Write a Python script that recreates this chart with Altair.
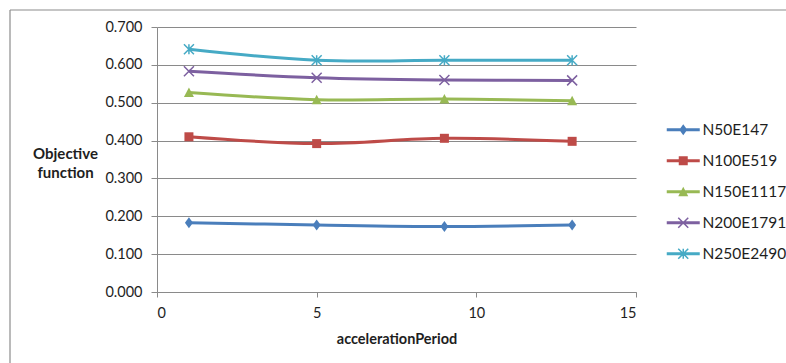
import altair as alt
import pandas as pd

# Objective function per accelerationPeriod, one series per network size
periods = [1, 5, 9, 13]
series_names = ["N50E147", "N100E519", "N150E1117", "N200E1791", "N250E2490"]
n50e147 = [0.183, 0.177, 0.173, 0.177]
n100e519 = [0.410, 0.392, 0.406, 0.398]
n150e1117 = [0.527, 0.508, 0.510, 0.505]
n200e1791 = [0.583, 0.566, 0.560, 0.559]
n250e2490 = [0.641, 0.612, 0.612, 0.612]
y_ticks = [0.0, 0.1, 0.2, 0.3, 0.4, 0.5, 0.6, 0.7]
x_ticks = [0, 5, 10, 15]

colors = ["#4a7ebb", "#be4b48", "#98b954", "#7d60a0", "#46aac5"]

# Marker outlines (unit coordinates, all sub-paths wound the same way so they fill solid)
DIAMOND = "M0,-1.1L0.8,0L0,1.1L-0.8,0Z"
SQUARE = "M-0.9,-0.9H0.9V0.9H-0.9Z"
TRIANGLE = "M0,-1L1,0.9H-1Z"
X_MARK = ("M-1.106,-0.894L-0.894,-1.106L1.106,0.894L0.894,1.106Z"
          "M-0.894,1.106L-1.106,0.894L0.894,-1.106L1.106,-0.894Z")
STAR = X_MARK + "M-0.15,-1H0.15V1H-0.15Z"
marker_paths = [DIAMOND, SQUARE, TRIANGLE, X_MARK, STAR]

# Legend keys: a short line segment with the marker on top
SEGMENT = "M-3.3,-0.3H3.3V0.3H-3.3Z"
legend_paths = [SEGMENT + p for p in marker_paths]

values = [n50e147, n100e519, n150e1117, n200e1791, n250e2490]
rows = []
for name, vals in zip(series_names, values):
    for p, v in zip(periods, vals):
        rows.append({"period": p, "value": v, "series": name})
df = pd.DataFrame(rows)

FONT = "Lato"
GRID = "#8a8a8a"
TEXT = "#1e1e1e"

x_enc = alt.X(
    "period:Q",
    scale=alt.Scale(domain=[0, 15], nice=False, zero=False),
    axis=alt.Axis(
        values=x_ticks, format="d", title="accelerationPeriod",
        grid=False, domainColor=GRID, tickColor=GRID, tickSize=5,
        labelPadding=9, labelFontSize=14.5, labelColor=TEXT, labelFont=FONT,
        titleFont=FONT, titleFontSize=14.5, titleFontWeight="bold", titleColor=TEXT,
        titleBaseline="middle", titleY=47,
    ),
)
y_enc = alt.Y(
    "value:Q",
    scale=alt.Scale(domain=[0, 0.7], nice=False),
    axis=alt.Axis(
        values=y_ticks, format=".3f", title=["Objective", "function"],
        grid=True, gridColor=GRID, gridWidth=1,
        domainColor=GRID, tickColor=GRID, tickSize=6,
        labelPadding=9, labelFontSize=14.5, labelColor=TEXT, labelFont=FONT,
        titleFont=FONT, titleFontSize=15, titleFontWeight="bold", titleColor=TEXT,
        titleAngle=0, titleAlign="center", titleBaseline="middle",
        titleX=-92, titleY=126.5, titleLineHeight=19,
    ),
)

color_scale = alt.Scale(domain=series_names, range=colors)

lines = alt.Chart(df).mark_line(interpolate="cardinal", strokeWidth=3).encode(
    x=x_enc, y=y_enc,
    color=alt.Color("series:N", scale=color_scale, legend=None),
)

points = alt.Chart(df).mark_point(filled=True, opacity=1, size=100, strokeWidth=0).encode(
    x=x_enc, y=y_enc,
    color=alt.Color("series:N", scale=color_scale, legend=None),
    shape=alt.Shape("series:N", scale=alt.Scale(domain=series_names, range=marker_paths), legend=None),
)

legend_def = alt.Legend(
    title=None, orient="none", legendX=518.5, legendY=95, padding=0,
    symbolSize=100, symbolStrokeWidth=0, symbolOpacity=1,
    labelOffset=11.5, labelFontSize=15.5, labelFont=FONT, labelColor=TEXT,
    rowPadding=14,
)

legend_layer = alt.Chart(df).mark_point(filled=True, opacity=1, size=100, strokeWidth=0).encode(
    x=x_enc, y=y_enc,
    color=alt.Color("series:N", scale=color_scale, legend=legend_def),
    shape=alt.Shape("series:N", scale=alt.Scale(domain=series_names, range=legend_paths), legend=legend_def),
).transform_filter("false")

# Outer frame of the chart area (left and top edges)
frame_data = alt.Data(values=[{"k": 0}])
frame_left = alt.Chart(frame_data).mark_rule(color="#8c8c8c", strokeWidth=1.2).encode(
    x=alt.value(-147), y=alt.value(-17), y2=alt.value(340),
)
frame_top = alt.Chart(frame_data).mark_rule(color="#8c8c8c", strokeWidth=1.2).encode(
    x=alt.value(-147), x2=alt.value(640), y=alt.value(-17),
)

chart = alt.layer(lines, points, legend_layer, frame_left, frame_top).resolve_scale(
    color="independent", shape="independent"
).properties(
    width=479, height=265,
    autosize=alt.AutoSizeParams(type="none"),
    padding={"left": 157, "top": 27, "right": 150, "bottom": 71},
    background="white",
).configure_view(stroke=None)

chart.save("out.html", embed_options={"renderer": "svg", "actions": False})
